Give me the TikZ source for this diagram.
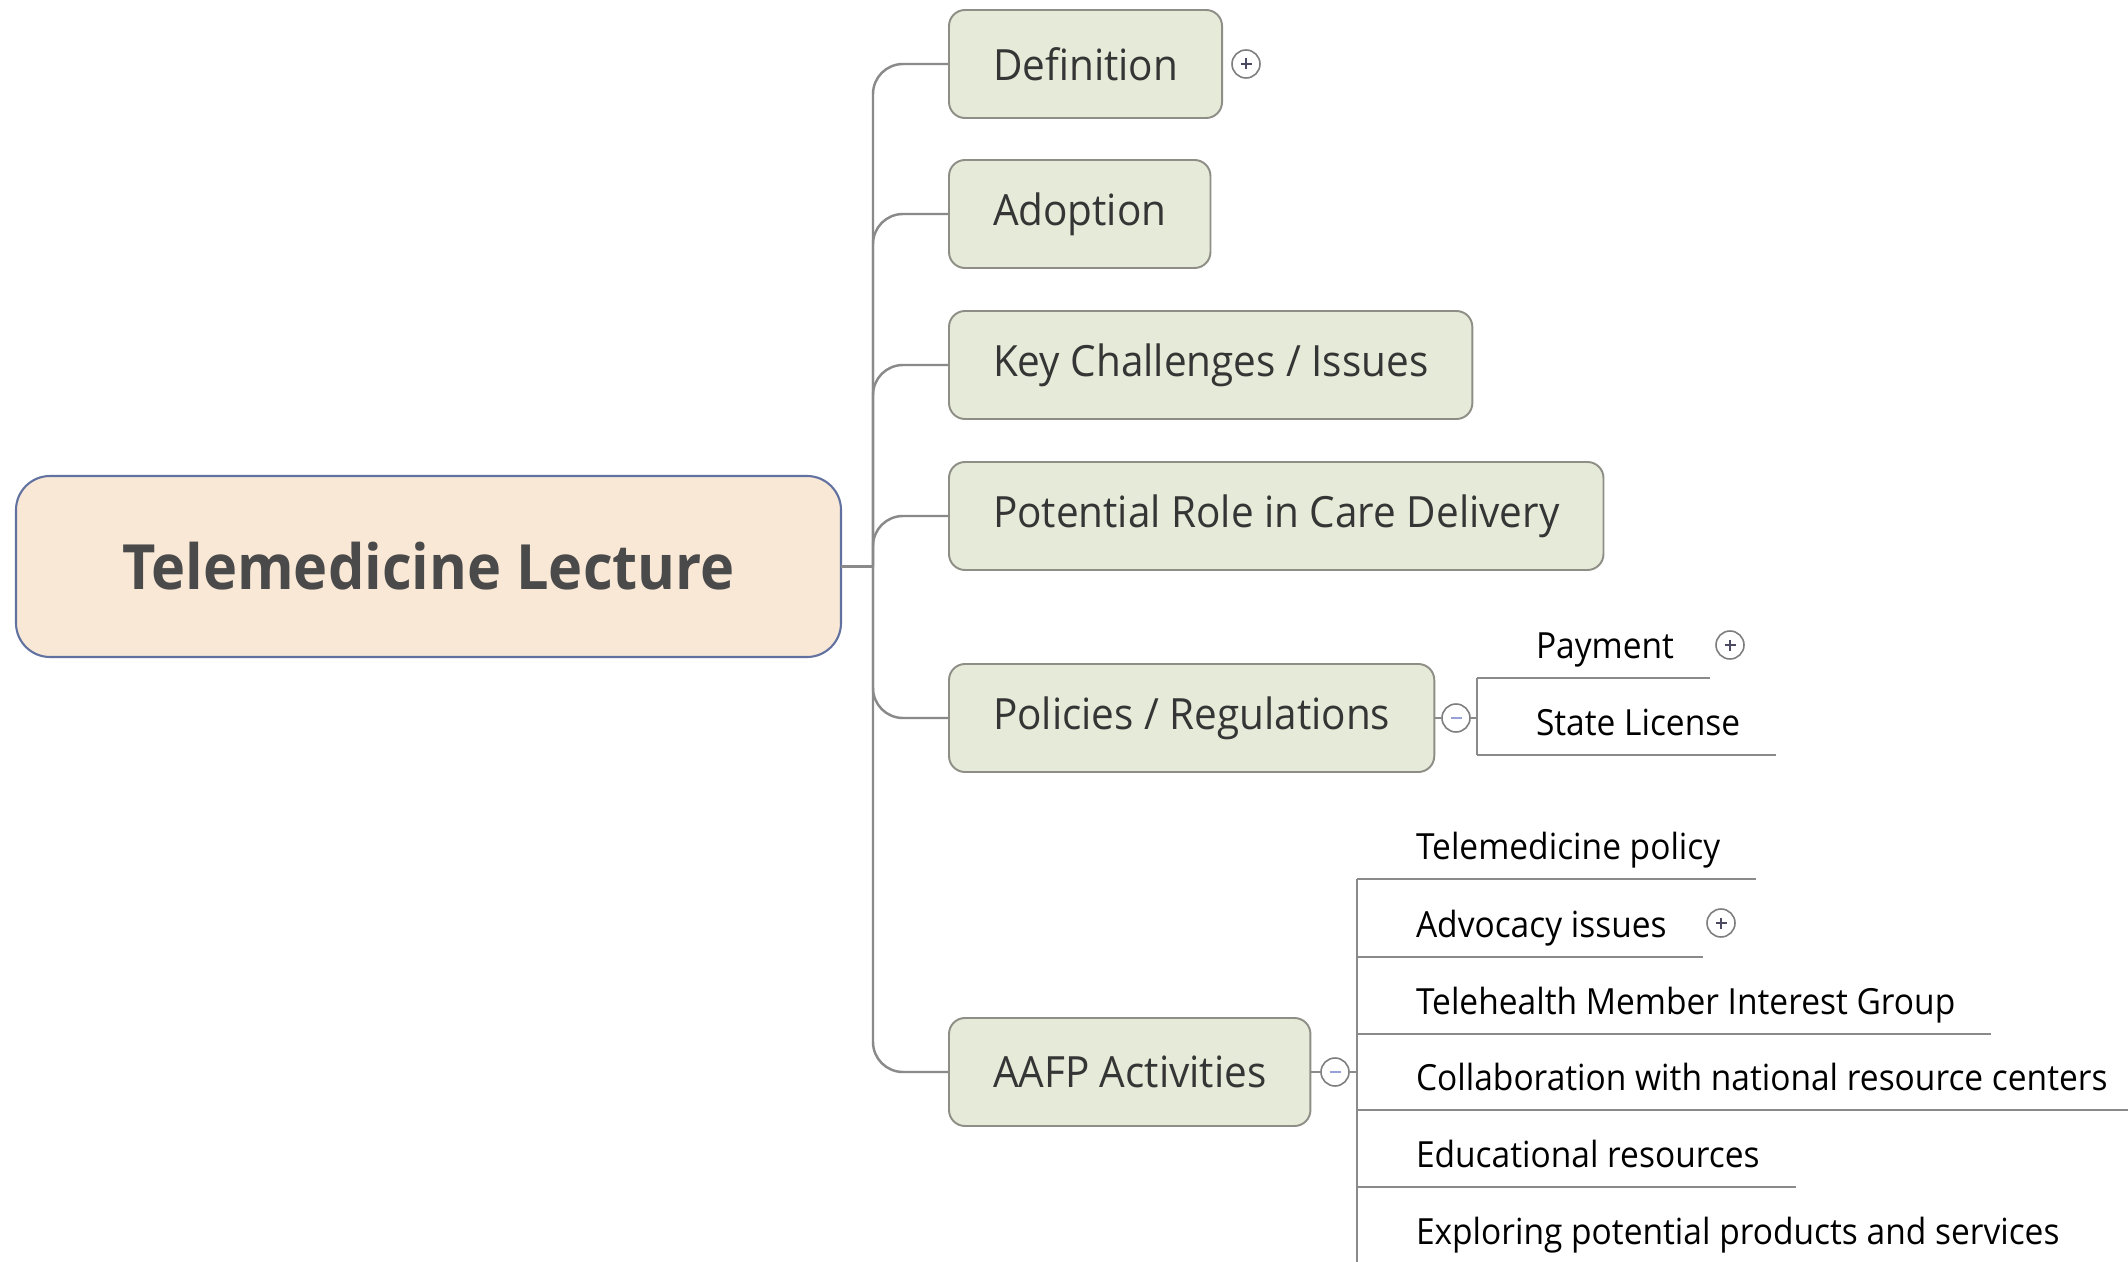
\documentclass[tikz,border=0pt]{standalone}
\usepackage{fontspec}
\setmainfont{Open Sans}
\newfontfamily\rootfont{Open Sans}[FakeStretch=0.925]
\newfontfamily\topicfont{Open Sans}[FakeStretch=0.94]
\newfontfamily\leaffont{Open Sans}[FakeStretch=0.93]
\usetikzlibrary{calc}
\definecolor{rootfill}{HTML}{FAE8D7}
\definecolor{rootdraw}{HTML}{6272A0}
\definecolor{roottext}{HTML}{4A4A4A}
\definecolor{topicfill}{HTML}{E6EAD8}
\definecolor{topicdraw}{HTML}{8E8E86}
\definecolor{topictext}{HTML}{353535}
\definecolor{linecol}{HTML}{8A8A8A}
\definecolor{markdraw}{HTML}{7E7E7E}
\definecolor{plussign}{HTML}{4A4A60}
\definecolor{minussign}{HTML}{98A0D8}
\tikzset{
  rootbox/.style={draw=rootdraw,fill=rootfill,line width=1.2pt,rounded corners=6.8mm,
    minimum width=165mm,minimum height=36.2mm,outer sep=0pt,text=roottext,
    font=\rootfont\bfseries\fontsize{35.5}{40}\selectfont},
  topic/.style={draw=topicdraw,fill=topicfill,line width=1.1pt,rounded corners=3.2mm,
    minimum height=21.6mm,inner xsep=8.8mm,outer sep=0pt,anchor=west,text=topictext,
    font=\topicfont\fontsize{24.5}{29}\selectfont},
  leaf/.style={anchor=south west,inner xsep=0pt,inner ysep=4mm,text depth=0pt,
    outer sep=0pt,font=\leaffont\fontsize{20.5}{24}\selectfont},
  branch/.style={draw=linecol,line width=1.4pt},
  marker/.style={circle,draw=markdraw,fill=white,line width=0.9pt,minimum size=5.6mm,
    inner sep=0pt,outer sep=0pt},
  plusmark/.style={marker,path picture={
    \draw[plussign,line width=1.2pt]
      ([xshift=-1.1mm]path picture bounding box.center) -- ([xshift=1.1mm]path picture bounding box.center)
      ([yshift=-1.1mm]path picture bounding box.center) -- ([yshift=1.1mm]path picture bounding box.center);}},
  minusmark/.style={marker,path picture={
    \draw[minussign,line width=1.4pt]
      ([xshift=-1.1mm]path picture bounding box.center) -- ([xshift=1.1mm]path picture bounding box.center);}}
}
\begin{document}
\begin{tikzpicture}[x=0.2mm,y=-0.2mm]
  \useasboundingbox (0,0) rectangle (2128,1262);
  % central topic
  \node[rootbox] (root) at (428.5,566.5) {Telemedicine Lecture};
  \coordinate (trunk) at ($(root.east)+(32,0)$);
  % main topics
  \node[topic] (def) at (949,64) {Definition};
  \node[topic] (adop) at (949,214) {Adoption};
  \node[topic] (chal) at (949,365) {Key Challenges / Issues};
  \node[topic] (role) at (949,516) {Potential Role in Care Delivery};
  \node[topic] (pol) at (949,718) {Policies / Regulations};
  \node[topic] (aafp) at (949,1072) {AAFP Activities};
  \draw[branch] (root.east) -- (trunk);
  \draw[branch,rounded corners=6mm] (trunk) |- (def.west);
  \draw[branch,rounded corners=6mm] (trunk) |- (adop.west);
  \draw[branch,rounded corners=6mm] (trunk) |- (chal.west);
  \draw[branch,rounded corners=6mm] (trunk) |- (role.west);
  \draw[branch,rounded corners=6mm] (trunk) |- (pol.west);
  \draw[branch,rounded corners=6mm] (trunk) |- (aafp.west);
  \node[plusmark] (defm) at (1246,64) {};
  % policies
  \node[minusmark] (polm) at (1456,718) {};
  \coordinate (polt) at ($(polm.east)+(7,0)$);
  \node[leaf] (pay) at (1536,678) {Payment};
  \node[leaf] (lic) at (1536,755) {State License};
  \node[plusmark] (paym) at (1730,645) {};
  \draw[branch] (pol.east) -- (polm.west);
  \draw[branch] (polm.east) -- (polt);
  \draw[branch] (polt |- pay.south) -- (polt |- lic.south);
  \draw[branch] (polt |- pay.south) -- ($(pay.south east)+(36,0)$);
  \draw[branch] (polt |- lic.south) -- ($(lic.south east)+(36,0)$);
  % aafp activities
  \node[minusmark] (aafpm) at (1335,1072) {};
  \coordinate (aafpt) at ($(aafpm.east)+(8,0)$);
  \node[leaf] (tpol) at (1416,879) {Telemedicine policy};
  \node[leaf] (advo) at (1416,957) {Advocacy issues};
  \node[leaf] (tmig) at (1416,1034) {Telehealth Member Interest Group};
  \node[leaf] (coll) at (1416,1110) {Collaboration with national resource centers};
  \node[leaf] (edu) at (1416,1187) {Educational resources};
  \node[leaf] (expl) at (1416,1264) {Exploring potential products and services};
  \node[plusmark] (advom) at (1721,923) {};
  \draw[branch] (aafp.east) -- (aafpm.west);
  \draw[branch] (aafpm.east) -- (aafpt);
  \draw[branch] (aafpt |- tpol.south) -- (aafpt |- expl.south);
  \draw[branch] (aafpt |- tpol.south) -- ($(tpol.south east)+(36,0)$);
  \draw[branch] (aafpt |- advo.south) -- ($(advo.south east)+(36,0)$);
  \draw[branch] (aafpt |- tmig.south) -- ($(tmig.south east)+(36,0)$);
  \draw[branch] (aafpt |- coll.south) -- ($(coll.south east)+(36,0)$);
  \draw[branch] (aafpt |- edu.south) -- ($(edu.south east)+(36,0)$);
  \draw[branch] (aafpt |- expl.south) -- ($(expl.south east)+(36,0)$);
\end{tikzpicture}
\end{document}
